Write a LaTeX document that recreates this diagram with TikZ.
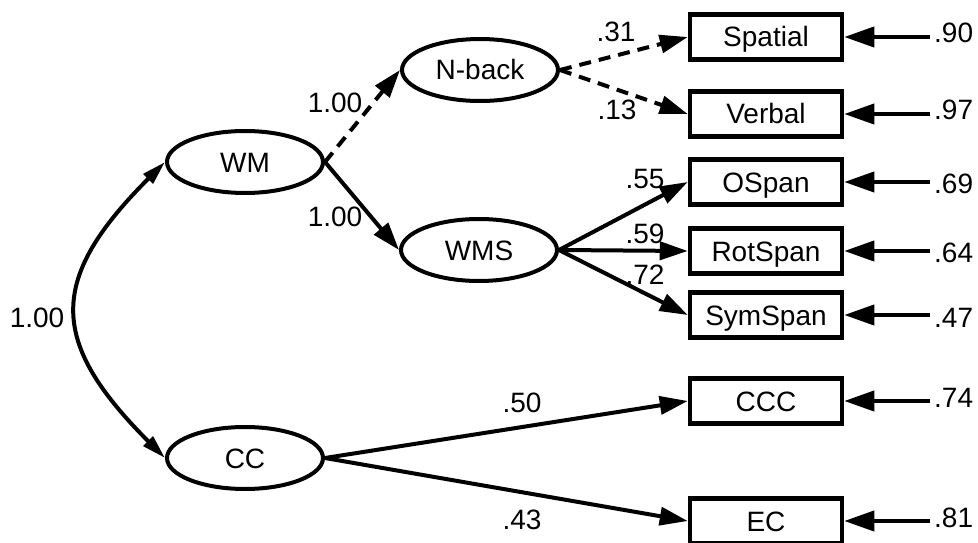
\documentclass[tikz,border=0pt]{standalone}
\usepackage{fontspec}
\setmainfont{Liberation Sans}
\usetikzlibrary{shapes.geometric,arrows.meta}

\tikzset{
  latent/.style={ellipse, draw, line width=4pt, minimum width=156pt, minimum height=62pt, inner sep=0pt},
  observed/.style={rectangle, draw, line width=4.5pt, minimum width=152pt, minimum height=45pt, inner sep=0pt},
  loading/.style={line width=4pt, -{Triangle[length=28pt,width=18pt]}},
  dashload/.style={loading, dash pattern=on 12pt off 8pt},
  resid/.style={line width=4pt, -{Triangle[length=30pt,width=20pt]}},
  covar/.style={line width=4pt, {Triangle[length=24pt,width=13pt]}-{Triangle[length=24pt,width=13pt]}},
  coef/.style={inner sep=0pt}
}

\begin{document}
\begin{tikzpicture}[x=1pt, y=-1pt, font=\fontsize{28}{34}\selectfont,
    every node/.append style={text height=20pt, text depth=0pt}]
  \useasboundingbox (0,0) rectangle (978,543);

  % Latent factors
  \node[latent] (wm) at (245,162) {WM};
  \node[latent] (cc) at (245,458) {CC};
  \node[latent] (nback) at (480,70) {N-back};
  \node[latent] (wms) at (479,250) {WMS};

  % Observed measures
  \node[observed] (spatial) at (766,37) {Spatial};
  \node[observed] (verbal) at (766,114) {Verbal};
  \node[observed] (ospan) at (766,182) {OSpan};
  \node[observed] (rotspan) at (766,251) {RotSpan};
  \node[observed] (symspan) at (766,315) {SymSpan};
  \node[observed] (ccc) at (766,401) {CCC};
  \node[observed] (ec) at (766,521) {EC};

  % Correlation between WM and CC
  \draw[covar] (wm.west) .. controls (48,279) and (48,341) .. (cc.west);
  \node[coef] (rwmcc) at (37,317) {1.00};

  % Second-order loadings
  \draw[dashload] (wm.east) -- (nback.west);
  \node[coef] (lnback) at (335,103) {1.00};
  \draw[loading] (wm.east) -- (wms.west);
  \node[coef] (lwms) at (335,216) {1.00};

  % N-back indicators
  \draw[dashload] (nback.east) -- (spatial.west);
  \node[coef] (lspatial) at (616,32) {.31};
  \draw[dashload] (nback.east) -- (verbal.west);
  \node[coef] (lverbal) at (617,110) {.13};

  % Span indicators
  \draw[loading] (wms.east) -- (ospan.west);
  \node[coef] (lospan) at (645,178) {.55};
  \draw[loading] (wms.east) -- (rotspan.west);
  \node[coef] (lrotspan) at (645,233) {.59};
  \draw[loading] (wms.east) -- (symspan.west);
  \node[coef] (lsymspan) at (645,274) {.72};

  % CC indicators
  \draw[loading] (cc.east) -- (ccc.west);
  \node[coef] (lccc) at (522,402) {.50};
  \draw[loading] (cc.east) -- (ec.west);
  \node[coef] (lec) at (522,519) {.43};

  % Residuals
  \coordinate (e1) at (930,37);
  \coordinate (e2) at (930,114);
  \coordinate (e3) at (930,182);
  \coordinate (e4) at (930,251);
  \coordinate (e5) at (930,315);
  \coordinate (e6) at (930,401);
  \coordinate (e7) at (930,521);
  \draw[resid] (e1) -- (spatial);
  \draw[resid] (e2) -- (verbal);
  \draw[resid] (e3) -- (ospan);
  \draw[resid] (e4) -- (rotspan);
  \draw[resid] (e5) -- (symspan);
  \draw[resid] (e6) -- (ccc);
  \draw[resid] (e7) -- (ec);
  \node[coef, anchor=west] (r1) at (934,33) {.90};
  \node[coef, anchor=west] (r2) at (934,110) {.97};
  \node[coef, anchor=west] (r3) at (934,183) {.69};
  \node[coef, anchor=west] (r4) at (934,252) {.64};
  \node[coef, anchor=west] (r5) at (934,317) {.47};
  \node[coef, anchor=west] (r6) at (934,397) {.74};
  \node[coef, anchor=west] (r7) at (934,517) {.81};
\end{tikzpicture}
\end{document}
